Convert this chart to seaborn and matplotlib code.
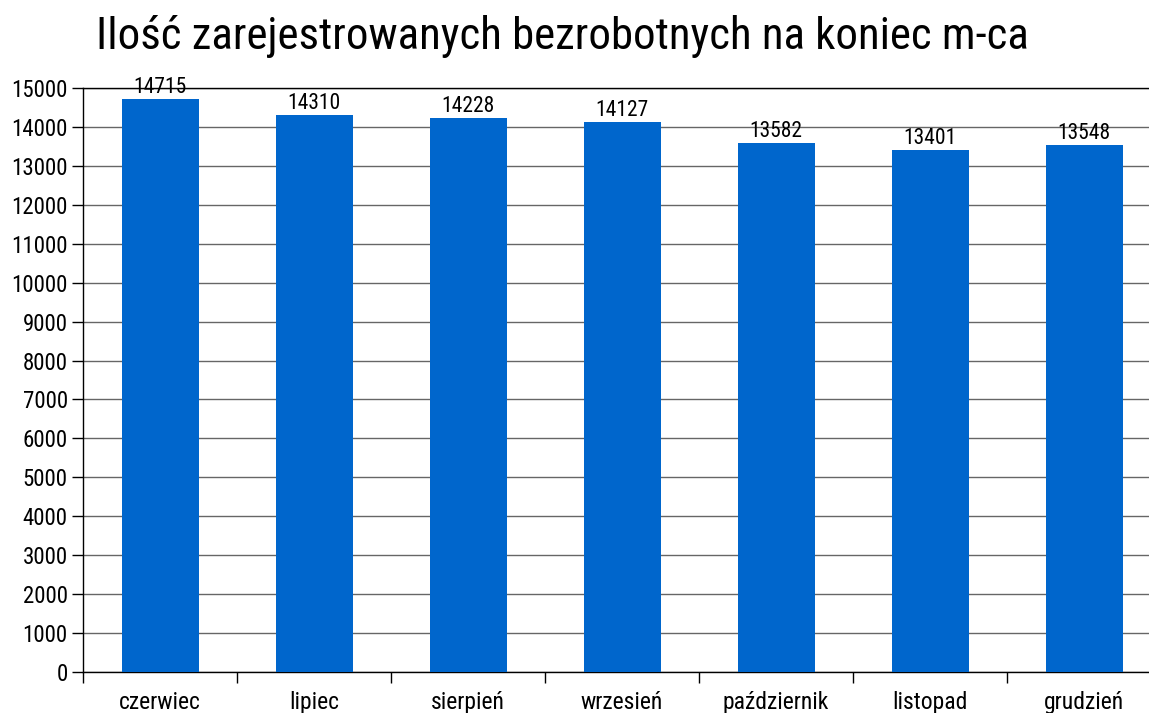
import matplotlib
matplotlib.use("Agg")
import matplotlib.pyplot as plt
import seaborn as sns
import pandas as pd

months = ["czerwiec", "lipiec", "sierpień", "wrzesień", "październik", "listopad", "grudzień"]
unemployed = [14715, 14310, 14228, 14127, 13582, 13401, 13548]
y_ticks = list(range(0, 15001, 1000))

sns.set_theme(style="white")
plt.rcParams["font.family"] = ["Roboto Condensed", "DejaVu Sans"]

df = pd.DataFrame({"month": months, "count": unemployed})

fig = plt.figure(figsize=(11.49, 7.13), dpi=100)
ax = fig.add_axes([83 / 1149, 41 / 713, (1149 - 83) / 1149, (672 - 88) / 713])

sns.barplot(data=df, x="month", y="count", color="#0066CC", saturation=1,
            width=0.5, ax=ax, zorder=3, linewidth=0)

ax.set_ylim(0, 15000)
ax.set_xlim(-0.5, 6.5 - 12 / 154)
ax.set_yticks(y_ticks)
ax.set_yticklabels([str(v) for v in y_ticks], fontsize=16.5, color="black")
ax.yaxis.grid(True, color="#666666", linewidth=1.0, zorder=0)
ax.set_axisbelow(True)

# category ticks sit between the bars
ax.set_xticks([i - 0.5 for i in range(len(months))], minor=False)
ax.set_xticklabels([])
ax.set_xticks(range(len(months)), minor=True)
ax.set_xticklabels(months, minor=True, fontsize=17, color="black")
ax.tick_params(axis="x", which="major", direction="out", length=8, width=1, color="black", bottom=True)
ax.tick_params(axis="x", which="minor", length=0, pad=14, bottom=True)
ax.tick_params(axis="y", direction="out", length=8, width=1, color="black", left=True, pad=3)

for side in ["left", "bottom", "top"]:
    ax.spines[side].set_visible(True)
    ax.spines[side].set_color("black")
    ax.spines[side].set_linewidth(1.0)
ax.spines["right"].set_visible(False)

for i, v in enumerate(unemployed):
    ax.text(i, v + 20, str(v), ha="center", va="bottom", fontsize=15.5, color="black", zorder=4)

ax.set_xlabel("")
ax.set_ylabel("")

fig.text(562 / 1149, 1 - 49 / 713, "Ilość zarejestrowanych bezrobotnych na koniec m-ca",
         ha="center", va="baseline", fontsize=32.3, color="black")

fig.savefig("out.png", dpi=100)
